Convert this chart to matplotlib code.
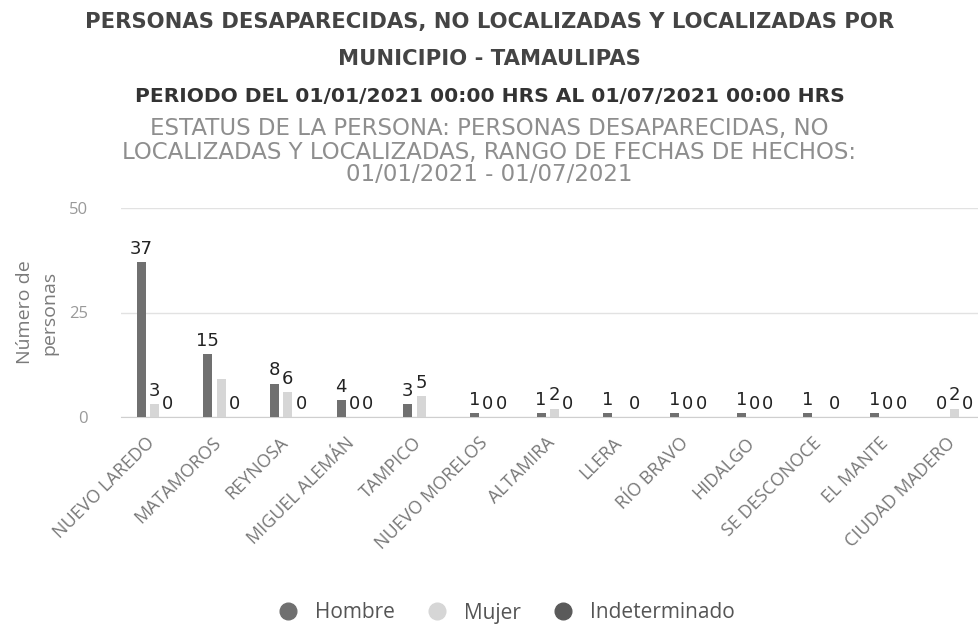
import numpy as np
import matplotlib.pyplot as plt
import matplotlib.transforms as mtransforms
from matplotlib.lines import Line2D

# --- data ---
municipios = ['NUEVO LAREDO', 'MATAMOROS', 'REYNOSA', 'MIGUEL ALEMÁN', 'TAMPICO',
              'NUEVO MORELOS', 'ALTAMIRA', 'LLERA', 'RÍO BRAVO', 'HIDALGO',
              'SE DESCONOCE', 'EL MANTE', 'CIUDAD MADERO']
hombre = [37, 15, 8, 4, 3, 1, 1, 1, 1, 1, 1, 1, 0]
mujer = [3, 9, 6, 0, 5, 0, 2, np.nan, 0, 0, np.nan, 0, 2]
indeterminado = [0, 0, 0, 0, np.nan, 0, 0, 0, 0, 0, 0, 0, 0]
# labels that the reference does not show (hidden by overlap)
hidden_labels = {('Mujer', 1)}

series_names = ['Hombre', 'Mujer', 'Indeterminado']
series_vals = [hombre, mujer, indeterminado]
colors = ['#707070', '#d6d6d6', '#5a5a5a']

FONT = ['Open Sans', 'DejaVu Sans']
TITLE_FONT = ['DejaVu Sans']
plt.rcParams['font.family'] = FONT

W, H = 979, 641
fig = plt.figure(figsize=(W / 100, H / 100), dpi=100)

# plot area in pixels
left, right, top, bottom = 121, 988, 208, 417
ax = fig.add_axes([left / W, 1 - bottom / H, (right - left) / W, (bottom - top) / H])

x = np.arange(len(municipios))
offs = [-0.2, 0.0, 0.2]
bw = 0.135
for name, vals, col, off in zip(series_names, series_vals, colors, offs):
    vals = np.array(vals, dtype=float)
    ax.bar(x + off, np.nan_to_num(vals), width=bw, color=col, zorder=3)
    for i, v in enumerate(vals):
        if np.isnan(v) or (name, i) in hidden_labels:
            continue
        ax.annotate(f'{int(v)}', (x[i] + off, v), xytext=(0, 3), textcoords='offset points',
                    ha='center', va='bottom', fontsize=13, color='#222222',
                    family=['DejaVu Sans'])

ax.set_xlim(-0.5, len(municipios) - 0.5)
ax.set_ylim(0, 50)
ax.set_yticks([0, 25, 50])
ax.yaxis.grid(True, color='#e2e2e2', linewidth=1, zorder=0)
ax.set_axisbelow(True)
for s in ['top', 'right', 'left']:
    ax.spines[s].set_visible(False)
ax.spines['bottom'].set_color('#cfcfcf')
ax.tick_params(axis='y', length=0, pad=24, labelsize=12, labelcolor='#999999')
ax.tick_params(axis='x', length=0, pad=12)
ax.set_xticks(x)
ax.set_xticklabels(municipios, rotation=45, ha='right', va='top', rotation_mode='anchor',
                   fontsize=13, color='#787878')
# nudge rotated labels so their end sits under the group centre
shift = mtransforms.ScaledTranslation(-9 / 100, 0, fig.dpi_scale_trans)
for lbl in ax.get_xticklabels():
    lbl.set_transform(lbl.get_transform() + shift)
ax.set_ylabel('Número de\npersonas', fontsize=14, color='#7a7a7a', labelpad=7,
              linespacing=1.5)

# titles
fig.text(0.5, 1 - 22 / H, 'PERSONAS DESAPARECIDAS, NO LOCALIZADAS Y LOCALIZADAS POR',
         ha='center', va='center', fontsize=15.2, fontweight='bold', color='#444444',
         family=TITLE_FONT)
fig.text(0.5, 1 - 59 / H, 'MUNICIPIO - TAMAULIPAS',
         ha='center', va='center', fontsize=15.2, fontweight='bold', color='#444444',
         family=TITLE_FONT)
fig.text(0.5, 1 - 96 / H, 'PERIODO DEL 01/01/2021 00:00 HRS AL 01/07/2021 00:00 HRS',
         ha='center', va='center', fontsize=14.6, fontweight='bold', color='#333333',
         family=TITLE_FONT)
subtitle = ['ESTATUS DE LA PERSONA: PERSONAS DESAPARECIDAS, NO',
            'LOCALIZADAS Y LOCALIZADAS, RANGO DE FECHAS DE HECHOS:',
            '01/01/2021 - 01/07/2021']
for line, ypx in zip(subtitle, [128, 152, 175]):
    fig.text(0.5, 1 - ypx / H, line, ha='center', va='center', fontsize=16.5,
             color='#8e8e8e', family=TITLE_FONT)

# legend
handles = [Line2D([], [], marker='o', linestyle='', markersize=12, color=c) for c in colors]
fig.legend(handles, series_names, loc='center', bbox_to_anchor=(501 / W, 1 - 613 / H),
           ncol=3, frameon=False, fontsize=15, labelcolor='#555555',
           handletextpad=0.3, columnspacing=1.0)

fig.savefig('out.png', dpi=100)
